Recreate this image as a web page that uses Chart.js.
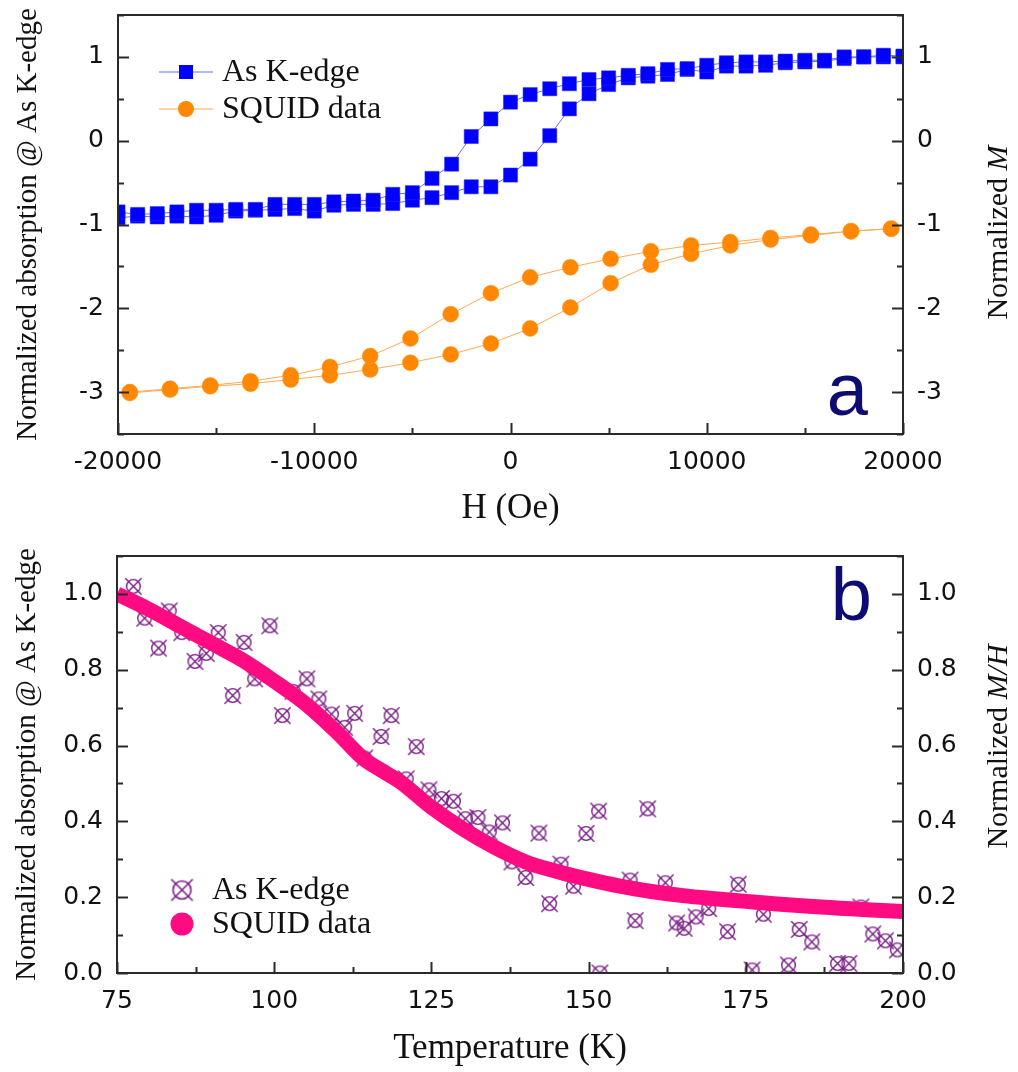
<!DOCTYPE html>
<html>
<head>
<meta charset="utf-8">
<script src="https://cdn.jsdelivr.net/npm/chart.js@4.4.1/dist/chart.umd.min.js"></script>
<style>
  html, body { margin: 0; padding: 0; background: #fff; }
  #wrap { position: relative; width: 1018px; height: 1072px; }
  canvas { position: absolute; left: 0; }
  #hyst { top: 0; }
  #temp { top: 530px; }
</style>
</head>
<body>
<div id="wrap">
  <canvas id="hyst" width="1018" height="530"></canvas>
  <canvas id="temp" width="1018" height="542"></canvas>
</div>
<script>
// ---------- panel a : hysteresis loops ----------
var fieldEdge = [-20000, -19000, -18000, -17000, -16000, -15000, -14000, -13000, -12000, -11000,
  -10000, -9000, -8000, -7000, -6000, -5000, -4000, -3000, -2000, -1000, 0,
  1000, 2000, 3000, 4000, 5000, 6000, 7000, 8000, 9000, 10000,
  11000, 12000, 13000, 14000, 15000, 16000, 17000, 18000, 19000, 20000];
// sweep from -H to +H
var edgeUp = [-0.92, -0.90, -0.91, -0.90, -0.91, -0.89, -0.84, -0.83, -0.82, -0.81,
  -0.84, -0.77, -0.76, -0.76, -0.75, -0.71, -0.68, -0.62, -0.55, -0.55, -0.41,
  -0.22, 0.06, 0.38, 0.56, 0.67, 0.75, 0.77, 0.79, 0.85, 0.82,
  0.89, 0.89, 0.90, 0.93, 0.94, 0.95, 0.98, 1.00, 1.00, 1.00];
// sweep from +H to -H (listed by increasing field)
var edgeDown = [-0.85, -0.88, -0.87, -0.85, -0.83, -0.83, -0.82, -0.82, -0.76, -0.76,
  -0.76, -0.73, -0.72, -0.71, -0.64, -0.62, -0.45, -0.28, 0.05, 0.26, 0.46,
  0.55, 0.62, 0.68, 0.73, 0.75, 0.78, 0.80, 0.85, 0.86, 0.90,
  0.93, 0.94, 0.94, 0.95, 0.96, 0.96, 1.00, 1.00, 1.02, 1.01];

var fieldSquid = [-19400, -17350, -15300, -13250, -11200, -9200, -7150, -5100, -3050, -1000,
  1000, 3050, 5100, 7150, 9200, 11200, 13250, 15300, 17350, 19400];
var squidUp = [-3.01, -2.97, -2.93, -2.90, -2.85, -2.80, -2.73, -2.65, -2.55, -2.42,
  -2.24, -1.99, -1.70, -1.48, -1.35, -1.25, -1.18, -1.13, -1.08, -1.05];
var squidDown = [-3.00, -2.96, -2.92, -2.87, -2.80, -2.70, -2.57, -2.36, -2.07, -1.82,
  -1.63, -1.51, -1.41, -1.32, -1.25, -1.21, -1.16, -1.12, -1.08, -1.05];

var hystTicksX = [-20000, -10000, 0, 10000, 20000];
var hystTicksY = [-3, -2, -1, 0, 1];

// ---------- panel b : temperature dependence ----------
var tempEdge = [77.6, 79.4, 81.6, 83.3, 85.3, 87.4, 89.2, 91.1, 93.4, 95.2,
  96.9, 99.3, 101.3, 103.0, 105.2, 107.1, 109.1, 111.2, 112.8, 114.4,
  117.0, 118.6, 121.0, 122.6, 124.6, 126.6, 128.5, 130.4, 132.4, 134.2,
  136.3, 137.8, 140.0, 142.1, 143.8, 145.6, 147.6, 149.6, 151.6, 151.8,
  156.6, 157.4, 159.4, 162.2, 164.0, 165.2, 167.1, 169.1, 172.1, 173.8,
  176.0, 177.8, 181.8, 183.5, 185.5, 189.6, 191.4, 193.3, 195.2, 197.2, 199.1];
var absEdge = [1.020, 0.936, 0.857, 0.955, 0.898, 0.822, 0.843, 0.898, 0.732, 0.872,
  0.776, 0.916, 0.679, 0.743, 0.776, 0.723, 0.683, 0.648, 0.685, 0.567,
  0.624, 0.679, 0.512, 0.597, 0.483, 0.460, 0.453, 0.407, 0.410, 0.372,
  0.396, 0.293, 0.252, 0.369, 0.183, 0.287, 0.229, 0.368, 0.427, 0.000,
  0.245, 0.138, 0.433, 0.238, 0.132, 0.118, 0.148, 0.170, 0.109, 0.234,
  0.008, 0.155, 0.021, 0.115, 0.082, 0.025, 0.025, 0.174, 0.103, 0.085, 0.061];

var tempSquid = [75, 80, 85, 90, 95, 100, 105, 110, 114, 117, 120, 125, 130, 135,
  140, 145, 150, 155, 160, 165, 170, 175, 180, 185, 190, 195, 200];
var mhSquid = [1.00, 0.96, 0.915, 0.87, 0.825, 0.77, 0.71, 0.635, 0.568, 0.535, 0.505, 0.437, 0.38, 0.332,
  0.293, 0.268, 0.247, 0.229, 0.215, 0.204, 0.196, 0.189, 0.182, 0.176, 0.171, 0.166, 0.162];

var tempTicksX = [75, 100, 125, 150, 175, 200];
var tempTicksY = [0, 0.2, 0.4, 0.6, 0.8, 1.0];

// ---------- helpers ----------
var tickFont = { family: '"DejaVu Sans", sans-serif', size: 25 };
var serif = '"Liberation Serif", "Times New Roman", serif';

function pts(xs, ys) {
  return xs.map(function (x, i) { return { x: x, y: ys[i] }; });
}
function loop(xs, up, down) {
  return pts(xs, up).concat(pts(xs, down).reverse());
}

function crossCircle(size, color, lw) {
  var c = document.createElement('canvas');
  c.width = c.height = size;
  var g = c.getContext('2d');
  var m = size / 2, r = size * 0.36, e = size * 0.07;
  g.strokeStyle = color;
  g.lineWidth = lw;
  g.beginPath(); g.arc(m, m, r, 0, Math.PI * 2); g.stroke();
  g.beginPath();
  g.moveTo(e, e); g.lineTo(size - e, size - e);
  g.moveTo(size - e, e); g.lineTo(e, size - e);
  g.stroke();
  return c;
}
var purple = 'rgb(122, 30, 135)';
var crossMark = crossCircle(19, purple, 1.4);
var crossMarkBig = crossCircle(25, purple, 1.6);

function fixedTicks(list) {
  return function (s) { s.ticks = list.map(function (v) { return { value: v }; }); };
}
function fitY(w) {
  return function (s) { s.width = w; s.paddingTop = 0; s.paddingBottom = 0; };
}
function fitX(h) {
  return function (s) { s.height = h; s.paddingLeft = 0; s.paddingRight = 0; };
}

// frame, inward ticks, legend, right title and panel letter
var decor = {
  id: 'decor',
  afterDraw: function (chart, args, o) {
    var ctx = chart.ctx, a = chart.chartArea;
    var xs = chart.scales.x, yl = chart.scales.y;
    ctx.save();
    ctx.strokeStyle = '#2a2a2a';
    ctx.lineWidth = 2;
    function isMajor(scale, v) {
      return scale.ticks.some(function (t) { return Math.abs(t.value - v) < 1e-6; });
    }
    ctx.beginPath();
    var v, p, len;
    for (v = xs.min; v <= xs.max + 1e-6; v += o.xMinor) {
      p = Math.round(xs.getPixelForValue(v)) + 0.5;
      len = isMajor(xs, v) ? 11 : 6;
      ctx.moveTo(p, a.bottom); ctx.lineTo(p, a.bottom - len);
    }
    for (v = Math.ceil(yl.min / o.yMinor) * o.yMinor; v <= yl.max + 1e-6; v += o.yMinor) {
      p = Math.round(yl.getPixelForValue(v)) + 0.5;
      len = isMajor(yl, v) ? 11 : 6;
      ctx.moveTo(a.left, p); ctx.lineTo(a.left + len, p);
      ctx.moveTo(a.right, p); ctx.lineTo(a.right - len, p);
    }
    ctx.stroke();
    ctx.strokeRect(a.left, a.top, a.right - a.left, a.bottom - a.top);

    // legend
    var L = o.legend;
    ctx.textBaseline = 'middle';
    ctx.textAlign = 'left';
    L.items.forEach(function (it, i) {
      var ds = chart.data.datasets[it.index];
      var y = L.y + i * L.gap;
      if (L.line) {
        ctx.strokeStyle = ds.borderColor;
        ctx.lineWidth = 1.2;
        ctx.beginPath(); ctx.moveTo(L.x - 27, y); ctx.lineTo(L.x + 27, y); ctx.stroke();
      }
      ctx.fillStyle = it.color;
      if (it.shape === 'rect') {
        ctx.fillRect(L.x - it.size, y - it.size, it.size * 2, it.size * 2);
      } else if (it.shape === 'circle') {
        ctx.beginPath(); ctx.arc(L.x, y, it.size, 0, Math.PI * 2); ctx.fill();
      } else {
        ctx.drawImage(it.shape, L.x - it.shape.width / 2, y - it.shape.height / 2);
      }
      ctx.fillStyle = '#111';
      ctx.font = '32px ' + serif;
      ctx.fillText(ds.label, L.textX, y + 1);
    });

    // right axis title, reading upward, with italic part
    var T = o.rightTitle;
    ctx.save();
    ctx.translate(T.x, (a.top + a.bottom) / 2 + T.dy);
    ctx.rotate(-Math.PI / 2);
    var total = 0;
    T.parts.forEach(function (pt) { ctx.font = pt.font; total += ctx.measureText(pt.text).width; });
    var cx = -total / 2;
    ctx.fillStyle = '#111';
    T.parts.forEach(function (pt) {
      ctx.font = pt.font;
      ctx.fillText(pt.text, cx, 0);
      cx += ctx.measureText(pt.text).width;
    });
    ctx.restore();

    // panel letter
    ctx.fillStyle = '#0c0c72';
    ctx.font = '74px "Liberation Sans", Arial, sans-serif';
    ctx.textAlign = 'right';
    ctx.textBaseline = 'alphabetic';
    ctx.fillText(o.letter.text, o.letter.x, o.letter.y);
    ctx.restore();
  }
};

function axisTitle(text, size, pad) {
  return { display: true, text: text, color: '#111', font: { family: serif, size: size }, padding: pad };
}

// ---------- chart a ----------
new Chart(document.getElementById('hyst'), {
  type: 'scatter',
  data: {
    datasets: [{
      label: 'As K-edge',
      data: loop(fieldEdge, edgeUp, edgeDown),
      yAxisID: 'y',
      showLine: true,
      borderColor: '#6a6aff',
      borderWidth: 1,
      pointStyle: 'rect',
      pointRadius: 10,
      pointBackgroundColor: '#0000ff',
      pointBorderColor: '#2a2aff',
      pointBorderWidth: 0.5
    }, {
      label: 'SQUID data',
      data: loop(fieldSquid, squidUp, squidDown),
      yAxisID: 'y2',
      showLine: true,
      borderColor: '#ffaa55',
      borderWidth: 1,
      pointStyle: 'circle',
      pointRadius: 8,
      pointBackgroundColor: '#ff8800',
      pointBorderColor: '#ff9522',
      pointBorderWidth: 0.5
    }]
  },
  options: {
    responsive: false,
    animation: false,
    events: [],
    layout: { padding: { top: 15, left: 0, right: 0, bottom: 0 } },
    scales: {
      x: {
        type: 'linear', position: 'bottom', min: -20000, max: 20000,
        afterBuildTicks: fixedTicks(hystTicksX),
        afterFit: fitX(96),
        grid: { display: false, drawTicks: false },
        border: { display: false },
        ticks: { color: '#111', font: tickFont, padding: 13, maxRotation: 0,
          callback: function (v) { return String(v); } },
        title: axisTitle('H (Oe)', 35, { top: 0, bottom: 0 })
      },
      y: {
        type: 'linear', position: 'left', min: -3.5, max: 1.5,
        afterBuildTicks: fixedTicks(hystTicksY),
        afterFit: fitY(118),
        grid: { display: false, drawTicks: false },
        border: { display: false },
        ticks: { color: '#111', font: tickFont, padding: 14 },
        title: axisTitle('Normalized absorption @ As K-edge', 29, { top: 11, bottom: 0 })
      },
      y2: {
        type: 'linear', position: 'right', min: -3.5, max: 1.5,
        afterBuildTicks: fixedTicks(hystTicksY),
        afterFit: fitY(115),
        grid: { display: false, drawTicks: false },
        border: { display: false },
        ticks: { color: '#111', font: tickFont, padding: 14 }
      }
    },
    plugins: {
      legend: { display: false },
      tooltip: { enabled: false },
      decor: {
        xMinor: 5000, yMinor: 0.5,
        legend: { x: 186, y: 72, gap: 37, textX: 222, line: true,
          items: [{ index: 0, shape: 'rect', size: 7, color: '#0000ff' },
                  { index: 1, shape: 'circle', size: 8, color: '#ff8800' }] },
        rightTitle: { x: 999, dy: 8, parts: [
          { text: 'Normalized ', font: '30px ' + serif },
          { text: 'M', font: 'italic 30px ' + serif }] },
        letter: { text: 'a', x: 868, y: 415 }
      }
    }
  },
  plugins: [decor]
});

// ---------- chart b ----------
new Chart(document.getElementById('temp'), {
  type: 'scatter',
  data: {
    datasets: [{
      label: 'As K-edge',
      data: pts(tempEdge, absEdge),
      yAxisID: 'y',
      showLine: false,
      pointStyle: crossMark,
      order: 2
    }, {
      label: 'SQUID data',
      data: pts(tempSquid, mhSquid),
      yAxisID: 'y2',
      showLine: true,
      borderColor: '#fe0a82',
      borderWidth: 15,
      borderJoinStyle: 'round',
      cubicInterpolationMode: 'monotone',
      pointRadius: 0,
      order: 1
    }]
  },
  options: {
    responsive: false,
    animation: false,
    events: [],
    layout: { padding: { top: 26, left: 0, right: 0, bottom: 0 } },
    scales: {
      x: {
        type: 'linear', position: 'bottom', min: 75, max: 200,
        afterBuildTicks: fixedTicks(tempTicksX),
        afterFit: fitX(99),
        grid: { display: false, drawTicks: false },
        border: { display: false },
        ticks: { color: '#111', font: tickFont, padding: 13, maxRotation: 0 },
        title: axisTitle('Temperature (K)', 35, { top: 0, bottom: 2 })
      },
      y: {
        type: 'linear', position: 'left', min: 0, max: 1.1,
        afterBuildTicks: fixedTicks(tempTicksY),
        afterFit: fitY(117),
        grid: { display: false, drawTicks: false },
        border: { display: false },
        ticks: { color: '#111', font: tickFont, padding: 14,
          callback: function (v) { return v.toFixed(1); } },
        title: axisTitle('Normalized absorption @ As K-edge', 29, { top: 10, bottom: 0 })
      },
      y2: {
        type: 'linear', position: 'right', min: 0, max: 1.1,
        afterBuildTicks: fixedTicks(tempTicksY),
        afterFit: fitY(115),
        grid: { display: false, drawTicks: false },
        border: { display: false },
        ticks: { color: '#111', font: tickFont, padding: 14,
          callback: function (v) { return v.toFixed(1); } }
      }
    },
    plugins: {
      legend: { display: false },
      tooltip: { enabled: false },
      decor: {
        xMinor: 12.5, yMinor: 0.1,
        legend: { x: 182, y: 360, gap: 34, textX: 212, line: false,
          items: [{ index: 0, shape: crossMarkBig },
                  { index: 1, shape: 'circle', size: 11.5, color: '#fe0a82' }] },
        rightTitle: { x: 999, dy: -18, parts: [
          { text: 'Normalized ', font: '30px ' + serif },
          { text: 'M/H', font: 'italic 30px ' + serif }] },
        letter: { text: 'b', x: 872, y: 90 }
      }
    }
  },
  plugins: [decor]
});
</script>
</body>
</html>
